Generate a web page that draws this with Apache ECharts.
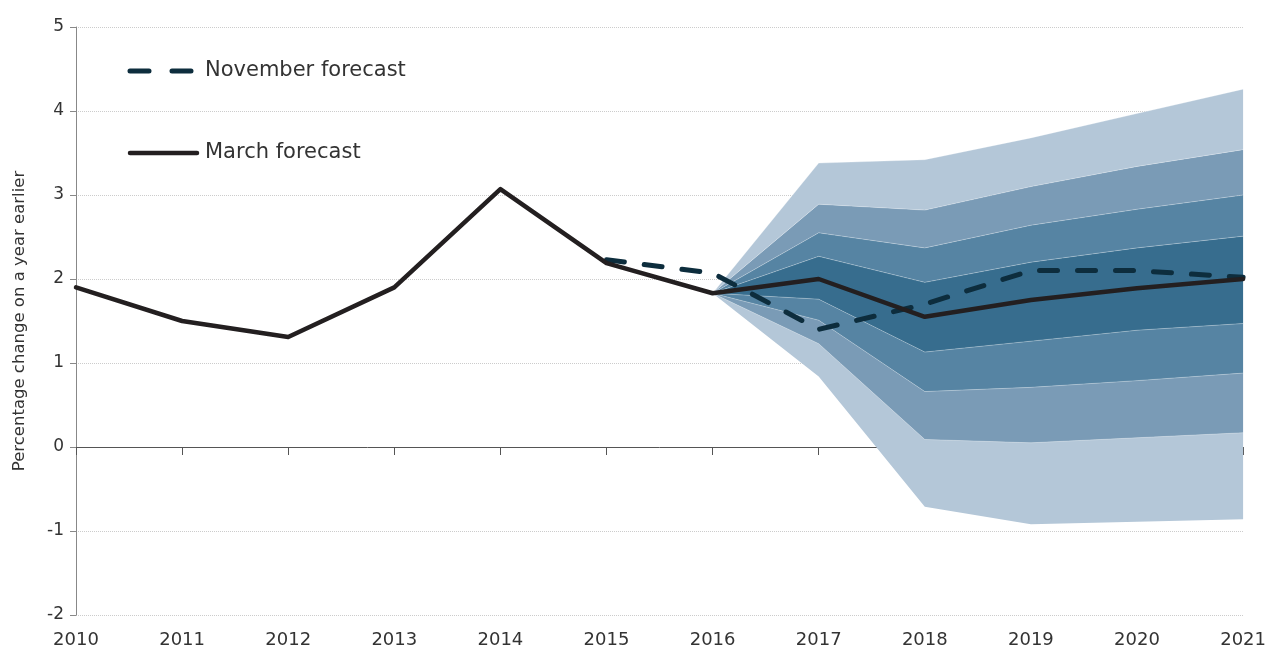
<!DOCTYPE html>
<html>
<head>
<meta charset="utf-8">
<script src="https://cdn.jsdelivr.net/npm/echarts@6/dist/echarts.min.js"></script>
<style>
  html, body { margin: 0; padding: 0; background: #fff; }
  #chart { width: 1269px; height: 650px; }
</style>
</head>
<body>
<div id="chart"></div>
<script>
const years = ['2010', '2011', '2012', '2013', '2014', '2015', '2016', '2017', '2018', '2019', '2020', '2021'];
const march = [1.9, 1.5, 1.31, 1.9, 3.07, 2.19, 1.83, 2.0, 1.55, 1.75, 1.89, 2.0];
const november = ['-', '-', '-', '-', '-', 2.23, 2.07, 1.40, 1.70, 2.10, 2.10, 2.02];

// fan chart band edges, 2016 to 2021
const fanStart = 6;
const outerLow  = [1.83, 0.84, -0.71, -0.92, -0.89, -0.86];
const band2Low  = [1.83, 1.23, 0.09, 0.05, 0.11, 0.17];
const band3Low  = [1.83, 1.51, 0.66, 0.71, 0.79, 0.88];
const innerLow  = [1.83, 1.76, 1.13, 1.26, 1.39, 1.47];
const innerHigh = [1.83, 2.27, 1.96, 2.20, 2.37, 2.51];
const band3High = [1.83, 2.55, 2.37, 2.64, 2.83, 3.00];
const band2High = [1.83, 2.89, 2.82, 3.10, 3.34, 3.54];
const outerHigh = [1.83, 3.38, 3.42, 3.68, 3.97, 4.26];

const cLight = '#b4c7d8', cBand2 = '#7a9bb6', cBand3 = '#5684a3', cInner = '#376d8e';
const cNov = '#0d2d3d', cMar = '#231f20';

function pad(arr) {
  let out = [];
  for (let i = 0; i < fanStart; i++) out.push('-');
  return out.concat(arr.map(v => +v.toFixed(3)));
}
function diff(hi, lo) {
  return pad(hi.map((v, i) => v - lo[i]));
}

const edges = [outerLow, band2Low, band3Low, innerLow, innerHigh, band3High, band2High, outerHigh];
const bandColors = [cLight, cBand2, cBand3, cInner, cBand3, cBand2, cLight];

let fanSeries = [{
  type: 'line', stack: 'fan', stackStrategy: 'all',
  data: pad(outerLow), symbol: 'none', silent: true,
  lineStyle: { opacity: 0 }, z: 1
}];
for (let i = 1; i < edges.length; i++) {
  fanSeries.push({
    type: 'line', stack: 'fan', stackStrategy: 'all',
    data: diff(edges[i], edges[i - 1]), symbol: 'none', silent: true,
    lineStyle: { width: 0.8, color: 'rgba(255,255,255,0.35)' },
    areaStyle: { color: bandColors[i - 1], opacity: 1 },
    z: 1
  });
}

const chart = echarts.init(document.getElementById('chart'));
const font = '"DejaVu Sans", sans-serif';

// legend drawn by hand so the keys look like the original
const legendText = { fontSize: 21, fill: '#333', fontFamily: font };

chart.setOption({
  animation: false,
  textStyle: { fontFamily: font },
  grid: { left: 76, right: 23, top: 27, bottom: 35 },
  graphic: [
    { type: 'line', shape: { x1: 130, y1: 71, x2: 193, y2: 71 },
      style: { stroke: cNov, lineWidth: 5, lineDash: [19, 23], lineCap: 'round' } },
    { type: 'text', left: 205, top: 60, style: Object.assign({ text: 'November forecast' }, legendText) },
    { type: 'line', shape: { x1: 130, y1: 153, x2: 197, y2: 153 },
      style: { stroke: cMar, lineWidth: 4.5, lineCap: 'round' } },
    { type: 'text', left: 205, top: 142, style: Object.assign({ text: 'March forecast' }, legendText) }
  ],
  xAxis: [{
    type: 'category', data: years, boundaryGap: false, position: 'bottom',
    axisLine: { show: false, onZero: false },
    axisTick: { show: false },
    axisLabel: { fontSize: 18, color: '#333', margin: 16, interval: 0 },
    splitLine: { show: false }
  }, {
    type: 'category', data: years, boundaryGap: false, position: 'bottom',
    axisLine: { show: true, onZero: true, lineStyle: { color: '#555', width: 1 } },
    axisTick: { show: true, length: 8, interval: 0, lineStyle: { color: '#555' } },
    axisLabel: { show: false },
    splitLine: { show: false }
  }],
  yAxis: {
    type: 'value', min: -2, max: 5, interval: 1,
    name: 'Percentage change on a year earlier',
    nameLocation: 'middle', nameGap: 48, nameRotate: 90,
    nameTextStyle: { fontSize: 16.5, color: '#333' },
    axisLine: { show: true, lineStyle: { color: '#888' } },
    axisTick: { show: true, length: 6, lineStyle: { color: '#888' } },
    axisLabel: { fontSize: 17, color: '#333', margin: 12 },
    splitLine: { show: true, lineStyle: { color: '#ccc', type: 'dotted', width: 1 } }
  },
  series: fanSeries.concat([{
    name: 'November forecast', type: 'line', data: november,
    symbol: 'none', z: 5,
    lineStyle: { color: cNov, width: 5, type: [18, 20], cap: 'round' },
    itemStyle: { color: cNov }
  }, {
    name: 'March forecast', type: 'line', data: march,
    symbol: 'none', z: 6,
    lineStyle: { color: cMar, width: 4.5, cap: 'round', join: 'round' },
    itemStyle: { color: cMar }
  }])
});
</script>
</body>
</html>
